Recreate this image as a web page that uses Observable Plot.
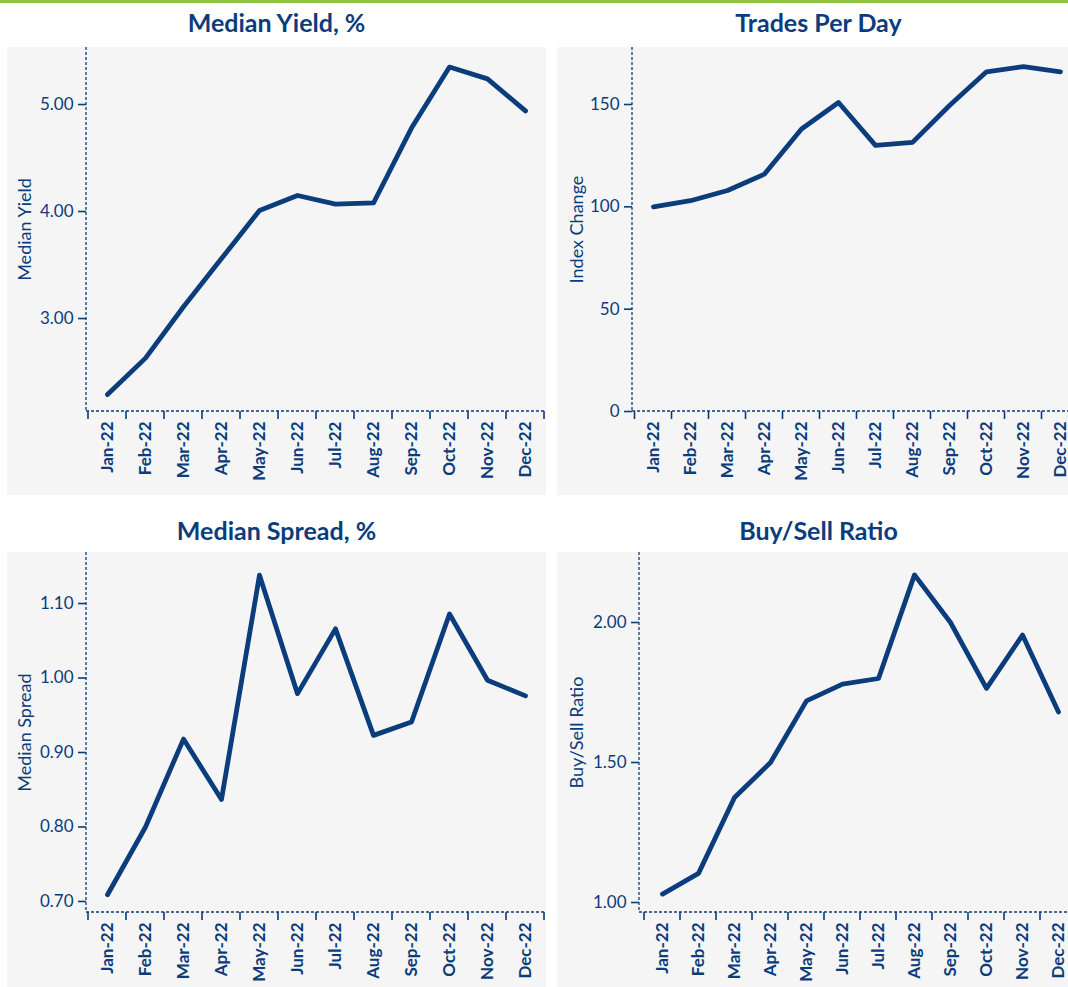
<!DOCTYPE html>
<html><head><meta charset="utf-8">
<script src="https://cdn.jsdelivr.net/npm/d3@7"></script>
<script src="https://cdn.jsdelivr.net/npm/@observablehq/plot@0.6"></script>
<style>
body{margin:0;background:#fff;}
#root{position:relative;width:1068px;height:987px;overflow:hidden;font-family:Lato,"Open Sans",sans-serif;}
.bar{position:absolute;left:0;top:0;width:1068px;height:3px;background:#8dc63f;}
.title{position:absolute;height:32px;line-height:32px;font-weight:bold;font-size:25px;color:#0b3c7c;text-align:center;white-space:nowrap;}
.chart{position:absolute;}
</style></head><body><div id="root"><div class="bar"></div></div><script>
const months = ["Jan-22","Feb-22","Mar-22","Apr-22","May-22","Jun-22","Jul-22","Aug-22","Sep-22","Oct-22","Nov-22","Dec-22"];
const medianYield = [2.29,2.63,3.11,3.56,4.01,4.15,4.07,4.08,4.78,5.35,5.24,4.94];
const tradesPerDay = [100,103,108,116,138,151,130,131.5,149.5,166,168.5,166];
const medianSpread = [0.709,0.80,0.918,0.837,1.138,0.979,1.066,0.923,0.941,1.086,0.997,0.976];
const buySellRatio = [1.03,1.104,1.375,1.50,1.72,1.78,1.80,2.17,2.00,1.765,1.955,1.68];
const yieldTicks = [3,4,5];
const tradesTicks = [0,50,100,150];
const spreadTicks = [0.7,0.8,0.9,1.0,1.1];
const ratioTicks = [1.0,1.5,2.0];

const C = "#0b3c7c";
const BG = "#f5f5f5";

const panels = [
  {title:"Median Yield, %", ylabel:"Median Yield", values:medianYield, ticks:yieldTicks, fmt:".2f", domain:[2.131,5.533],
   left:7, top:47, width:539, height:448, ml:79, mb:84, labelOff:61, titleTop:6},
  {title:"Trades Per Day", ylabel:"Index Change", values:tradesPerDay, ticks:tradesTicks, fmt:"d", domain:[0,177.85],
   left:557, top:47, width:523, height:448, ml:75, mb:84, labelOff:55, titleTop:6},
  {title:"Median Spread, %", ylabel:"Median Spread", values:medianSpread, ticks:spreadTicks, fmt:".2f", domain:[0.6852,1.1685],
   left:7, top:552, width:539, height:435, ml:79, mb:75, labelOff:61, titleTop:514},
  {title:"Buy/Sell Ratio", ylabel:"Buy/Sell Ratio", values:buySellRatio, ticks:ratioTicks, fmt:".2f", domain:[0.9643,2.25],
   left:557, top:552, width:523, height:435, ml:82, mb:75, labelOff:62, titleTop:514}
];

const root = document.getElementById("root");

for (const p of panels) {
  const data = months.map((m,i)=>({month:m, value:p.values[i]}));

  // dashed axis lines and band-boundary ticks, positioned with the plot's own x scale
  const axisFrame = (index, scales, values, dims) => {
    const g = d3.create("svg:g");
    const x0 = dims.marginLeft, x1 = dims.width - dims.marginRight;
    const y0 = dims.marginTop, y1 = dims.height - dims.marginBottom;
    const step = scales.x(months[1]) - scales.x(months[0]);
    g.append("line").attr("x1",x0).attr("x2",x1).attr("y1",y1).attr("y2",y1)
      .attr("stroke",C).attr("stroke-width",1.3).attr("stroke-dasharray","3,2");
    g.append("line").attr("x1",x0).attr("x2",x0).attr("y1",y0).attr("y2",y1)
      .attr("stroke",C).attr("stroke-width",1.3).attr("stroke-dasharray","3,2");
    const bounds = months.map(m => scales.x(m) - step/2).concat([scales.x(months[months.length-1]) + step/2]);
    for (const bx of bounds) {
      g.append("line").attr("x1",bx).attr("x2",bx).attr("y1",y1).attr("y2",y1+8)
        .attr("stroke",C).attr("stroke-width",1.6);
    }
    return g.node();
  };

  const chart = Plot.plot({
    width: p.width,
    height: p.height,
    marginLeft: p.ml,
    marginRight: 0,
    marginTop: 0,
    marginBottom: p.mb,
    style: {background: BG, color: C, fontFamily: "Lato, 'Open Sans', sans-serif", fontSize: "17px", overflow: "visible"},
    x: {type: "point", domain: months, padding: 0.5, axis: null},
    y: {domain: p.domain, axis: null},
    marks: [
      Plot.axisX({tickSize: 0, tickPadding: 10, tickRotate: -90, fontSize: 17, fontWeight: "bold", fill: C, label: null}),
      Plot.axisY({ticks: p.ticks, tickFormat: d3.format(p.fmt), tickSize: 8, tickPadding: 5, fontSize: 17, stroke: C, strokeWidth: 1.6, fill: C, label: null}),
      Plot.text([p.ylabel], {frameAnchor: "left", textAnchor: "middle", rotate: -90, dx: -p.labelOff, fontSize: 18, fill: C}),
      axisFrame,
      Plot.line(data, {x: "month", y: "value", stroke: C, strokeWidth: 4.8, strokeLinecap: "round", strokeLinejoin: "round"})
    ]
  });
  chart.classList.add("chart");
  chart.style.left = p.left + "px";
  chart.style.top = p.top + "px";
  root.appendChild(chart);

  const t = document.createElement("div");
  t.className = "title";
  t.textContent = p.title;
  t.style.left = p.left + "px";
  t.style.width = p.width + "px";
  t.style.top = p.titleTop + "px";
  root.appendChild(t);
}
</script></body></html>
